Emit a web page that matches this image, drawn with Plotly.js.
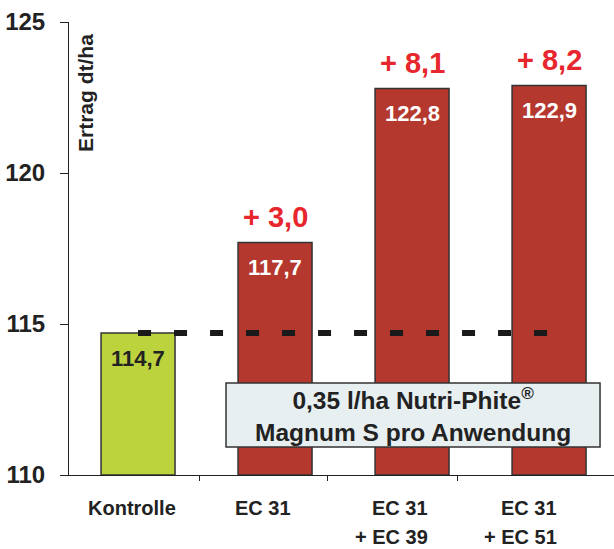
<!DOCTYPE html>
<html><head><meta charset="utf-8">
<script src="https://cdn.plot.ly/plotly-3.0.1.min.js"></script>
<style>body{margin:0;padding:0;background:#fff}#chart{width:614px;height:549px}</style>
</head><body><div id="chart"></div>
<script>
const categories = ["Kontrolle", "EC 31", "EC 31<br>+ EC 39", "EC 31<br>+ EC 51"];
const yields = [114.7, 117.7, 122.8, 122.9];
const valueLabels = ["114,7", "117,7", "122,8", "122,9"];
const gainLabels = ["", "+ 3,0", "+ 8,1", "+ 8,2"];
const barColors = ["#BCD33E", "#B5382F", "#B5382F", "#B5382F"];
const valueColors = ["#222222", "#ffffff", "#ffffff", "#ffffff"];
const yTicks = [110, 115, 120, 125];
const baseline = 114.7;

const F = "Liberation Sans, Arial, sans-serif";
const xs = categories.map((c, i) => i);

const annotations = [];
xs.forEach((x, i) => {
  annotations.push({x: x, y: yields[i], xref: 'x', yref: 'y', yshift: -25, text: '<b>' + valueLabels[i] + '</b>',
    showarrow: false, font: {family: F, size: 22, color: valueColors[i]}});
  if (gainLabels[i]) annotations.push({x: x, y: yields[i], xref: 'x', yref: 'y', yshift: 25, text: '<b>' + gainLabels[i] + '</b>',
    showarrow: false, font: {family: F, size: 29, color: '#E8262D'}});
});
// category labels (each line placed separately for the wider line spacing)
const labelX = [-0.044, 0.91, 2.13, 3.07];
const labelAnchor = ['center', 'center', 'right', 'right'];
categories.forEach((c, i) => {
  c.split('<br>').forEach((line, k) => {
    annotations.push({x: labelX[i], y: 0, xref: 'x', yref: 'paper', yanchor: 'middle', yshift: -33 - 29 * k,
      xanchor: labelAnchor[i], text: '<b>' + line + '</b>', showarrow: false,
      font: {family: F, size: 20, color: '#222'}});
  });
});
annotations.push({x: 0, y: 1, xref: 'paper', yref: 'paper', xshift: 16, yshift: -10, xanchor: 'center', yanchor: 'top',
  text: '<b>Ertrag dt/ha</b>', textangle: -90, showarrow: false, font: {family: F, size: 21, color: '#222'}});
annotations.push({x: 2.007, y: 111.99, xref: 'x', yref: 'y', text: '<b>0,35 l/ha Nutri-Phite<sup>®</sup><br>Magnum S pro Anwendung</b>',
  showarrow: false, font: {family: F, size: 24.5, color: '#222'}});

const data = [{
  type: 'bar', x: xs, y: yields.map(v => v - 110), base: 110, width: 0.54,
  marker: {color: barColors, line: {color: '#333', width: 1.5}}, hoverinfo: 'none'
}, {
  type: 'scatter', mode: 'lines', x: [0, 3], y: [baseline, baseline],
  line: {color: '#1a1a1a', width: 6, dash: '13px,23px'}, hoverinfo: 'none'
}];

const layout = {
  width: 614, height: 549, showlegend: false,
  margin: {l: 69, r: 0, t: 22, b: 74},
  paper_bgcolor: '#fff', plot_bgcolor: '#fff',
  xaxis: {range: [-0.504, 3.474], showgrid: false, zeroline: false, showline: true, linecolor: '#222', linewidth: 1,
    tickmode: 'array', tickvals: [-0.51, 0.445, 1.38, 2.33], showticklabels: false, ticks: 'outside', ticklen: 5, tickcolor: '#222'},
  yaxis: {range: [110, 125], tickvals: yTicks, showgrid: false, zeroline: false, showline: true, linecolor: '#222', linewidth: 1,
    ticks: 'outside', ticklen: 8, tickcolor: '#222', ticklabelstandoff: 10,
    tickfont: {family: F, size: 24, color: '#222', weight: 'bold'}},
  shapes: [{type: 'rect', xref: 'x', yref: 'y', x0: 0.642, x1: 3.372, y0: 110.93, y1: 113.05,
    fillcolor: '#E7EFF1', line: {color: '#333', width: 1.5}, layer: 'above'}],
  annotations: annotations
};
Plotly.newPlot('chart', data, layout, {staticPlot: true});
</script></body></html>
